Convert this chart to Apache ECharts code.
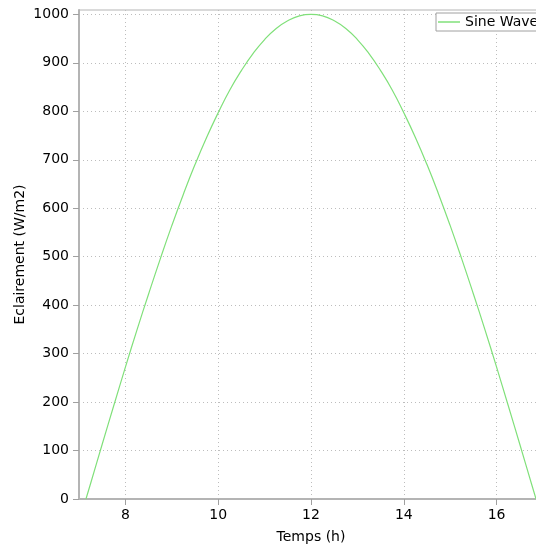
<!DOCTYPE html>
<html>
<head>
<meta charset="utf-8">
<script src="https://cdn.jsdelivr.net/npm/echarts@6/dist/echarts.min.js"></script>
<style>html,body{margin:0;padding:0;background:#fff;}#c{width:536px;height:547px;}</style>
</head>
<body>
<div id="c"></div>
<script>
const seriesName = "Sine Wave";
const times = [7.15, 7.25, 7.5, 7.75, 8, 8.25, 8.5, 8.75, 9, 9.25, 9.5, 9.75, 10, 10.25, 10.5, 10.75, 11, 11.25, 11.5, 11.75, 12,
  12.25, 12.5, 12.75, 13, 13.25, 13.5, 13.75, 14, 14.25, 14.5, 14.75, 15, 15.25, 15.5, 15.75, 16, 16.25, 16.5, 16.75, 16.85];
const irradiance = [0, 32, 113, 193, 272, 349, 423, 495, 564, 629, 690, 746, 797, 844, 884, 919, 948, 971, 987, 997, 1000,
  997, 987, 971, 948, 919, 884, 844, 797, 746, 690, 629, 564, 495, 423, 349, 272, 193, 113, 32, 0];
const xTicks = [8, 10, 12, 14, 16];
const yTicks = [0, 100, 200, 300, 400, 500, 600, 700, 800, 900, 1000];

const chart = echarts.init(document.getElementById('c'), null, {renderer: 'canvas'});
const font = 'DejaVu Sans';
chart.setOption({
  animation: false,
  backgroundColor: '#ffffff',
  textStyle: {fontFamily: font},
  grid: {left: 79, right: -7, top: 10, bottom: 48, outerBoundsMode: 'none', containLabel: false,
    show: true, borderColor: '#b4b4b4', borderWidth: 1, backgroundColor: 'transparent'},
  legend: {
    show: true, left: 436, top: 13, orient: 'horizontal',
    backgroundColor: '#ffffff', borderColor: '#a0a0a0', borderWidth: 1, borderRadius: 0,
    padding: [2, 4, 2, 2], itemWidth: 22, itemHeight: 1.5, icon: 'rect', itemGap: 9,
    textStyle: {fontFamily: font, fontSize: 14, color: '#000'},
    data: [seriesName]
  },
  xAxis: {
    type: 'value', min: 7, max: 17,
    name: 'Temps (h)', nameLocation: 'middle', nameGap: 31, nameMoveOverlap: false,
    nameTextStyle: {fontFamily: font, fontSize: 14, color: '#000'},
    axisLine: {show: true, onZero: false, lineStyle: {color: '#b4b4b4', width: 2}},
    axisTick: {show: true, length: 6, customValues: xTicks, lineStyle: {color: '#a0a0a0'}},
    axisLabel: {customValues: xTicks, margin: 9, fontFamily: font, fontSize: 14, color: '#000',
      formatter: v => String(v)},
    splitLine: {show: true, lineStyle: {color: '#bdbdbd', type: [1, 3], width: 1}}
  },
  yAxis: {
    type: 'value', min: 0, max: 1009,
    name: 'Eclairement (W/m2)', nameLocation: 'middle', nameGap: 52, nameMoveOverlap: false,
    nameTextStyle: {fontFamily: font, fontSize: 14, color: '#000'},
    axisLine: {show: true, lineStyle: {color: '#b4b4b4', width: 2}},
    axisTick: {show: true, length: 6, customValues: yTicks, lineStyle: {color: '#a0a0a0'}},
    axisLabel: {customValues: yTicks, margin: 10, fontFamily: font, fontSize: 14, color: '#000',
      formatter: v => String(v)},
    splitLine: {show: true, lineStyle: {color: '#bdbdbd', type: [1, 3], width: 1}}
  },
  series: [{
    name: seriesName, type: 'line', symbol: 'none', smooth: true,
    lineStyle: {color: '#80e07a', width: 1.2}, itemStyle: {color: '#80e07a'},
    data: times.map((t, i) => [t, irradiance[i]])
  }]
});
</script>
</body>
</html>
